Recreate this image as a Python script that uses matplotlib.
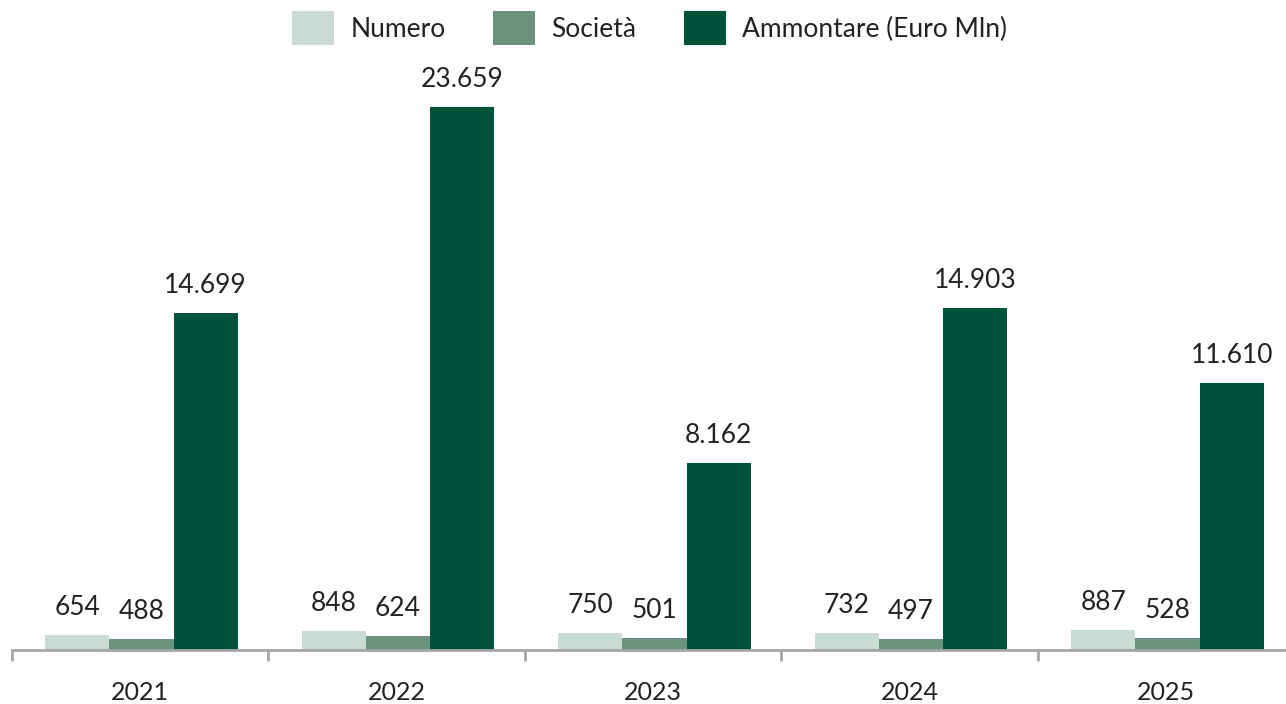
import numpy as np
import matplotlib
matplotlib.use("Agg")
import matplotlib.pyplot as plt

# Data
anni = ["2021", "2022", "2023", "2024", "2025"]
numero = [654, 848, 750, 732, 887]
societa = [488, 624, 501, 497, 528]
ammontare = [14699, 23659, 8162, 14903, 11610]

serie = ["Numero", "Società", "Ammontare (Euro Mln)"]
colori = ["#cadbd3", "#6a927c", "#00533b"]

plt.rcParams['font.family'] = ['Lato', 'DejaVu Sans']

def fmt(v):
    # thousands separator with a dot, Italian style
    return f"{v:,}".replace(",", ".")

fig = plt.figure(figsize=(12.86, 7.04), dpi=100)
# axes extend past the right edge, as in the reference
ax = fig.add_axes([12 / 1286, 54 / 704, 1282.5 / 1286, 590 / 704])

x = np.arange(len(anni))
w = 0.25
for k, (vals, col, nome) in enumerate(zip([numero, societa, ammontare], colori, serie)):
    pos = x + (k - 1) * w + 0.005
    bars = ax.bar(pos, vals, width=w, color=col, label=nome, zorder=2)
    for b, v in zip(bars, vals):
        ax.annotate(fmt(v), (b.get_x() + b.get_width() / 2, v),
                    xytext=(0, 14.4), textcoords="offset points",
                    ha="center", va="baseline", fontsize=19, color="#222222")

ax.set_xlim(-0.5, len(anni) - 0.5)
ax.set_ylim(0, 25700)

for s in ["top", "right", "left"]:
    ax.spines[s].set_visible(False)
ax.spines["bottom"].set_color("#a6a6a6")
ax.spines["bottom"].set_linewidth(2)
ax.set_yticks([])

ax.set_xticks(x)
ax.set_xticklabels(anni, fontsize=18, color="#222222")
ax.tick_params(axis="x", which="major", length=0, pad=22)
ax.set_xticks(np.arange(-0.5, len(anni)), minor=True)
ax.tick_params(axis="x", which="minor", length=8, width=2, color="#a6a6a6", direction="out")

fig.legend(loc="upper center", bbox_to_anchor=(0.505, 1.018), ncol=3, frameon=False,
           fontsize=19, handlelength=1.6, handleheight=1.6, columnspacing=1.8,
           handletextpad=0.6, labelcolor="#222222")

fig.savefig("out.png", dpi=100)
